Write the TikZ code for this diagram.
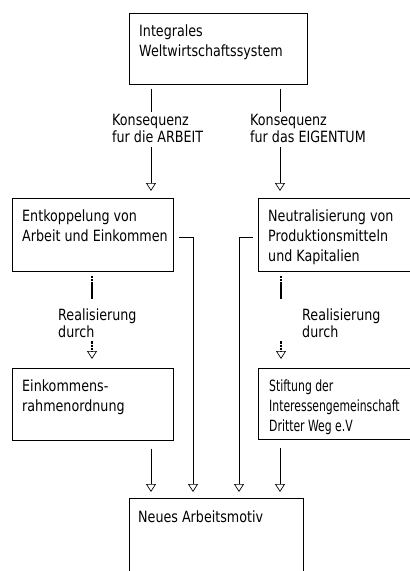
\documentclass[tikz,border=0pt]{standalone}
\usepackage{fontspec}
\setmainfont{DejaVu Sans}[FakeStretch=0.82]
\newfontfamily\tightfont{DejaVu Sans}[FakeStretch=0.7]
\usetikzlibrary{arrows.meta}
\usetikzlibrary{positioning}

\begin{document}
\begin{tikzpicture}[x=1pt,y=-1pt,
	box/.style={draw, line width=0.7pt, anchor=north west, inner sep=0pt},
	boxtext/.style={anchor=north west, inner sep=0pt, align=left, font=\fontsize{15.5}{20}\selectfont},
	lbl/.style={anchor=north west, inner sep=2pt, align=left, font=\fontsize{15.5}{16.5}\selectfont},
	link/.style={line width=0.7pt},
	arr/.style={line width=0.7pt, -{Triangle[open, width=10pt, length=8pt]}, shorten >=6pt},
	real/.style={line width=2.4pt, dash pattern=on 2.6pt off 0.5pt}]

			\useasboundingbox (0,0) rectangle (410,571);
			\clip (0,0) rectangle (410,571);

			% boxes
			\node[box, minimum width=178, minimum height=71] (top) at (129,13) {};
			\node[boxtext] (topT) at ([xshift=10pt,yshift=-12pt]top.north west) {Integrales\\Weltwirtschaftssystem};

			\node[box, minimum width=161, minimum height=73] (midL) at (12,198) {};
			\node[boxtext] (midLT) at ([xshift=10pt,yshift=-12pt]midL.north west) {Entkoppelung von\\Arbeit und Einkommen};

			\node[box, minimum width=162, minimum height=73] (midR) at (258,198) {};
			\node[boxtext] (midRT) at ([xshift=10pt,yshift=-12pt]midR.north west) {Neutralisierung von\\Produktionsmitteln\\und Kapitalien};

			\node[box, minimum width=161, minimum height=72] (botL) at (12,368) {};
			\node[boxtext] (botLT) at ([xshift=10pt,yshift=-12pt]botL.north west) {Einkommens-\\rahmenordnung};

			\node[box, minimum width=162, minimum height=71] (botR) at (258,368) {};
			\node[boxtext, font=\fontsize{15.5}{20}\tightfont] (botRT) at ([xshift=11pt,yshift=-12pt]botR.north west) {Stiftung der\\Interessengemeinschaft\\Dritter Weg e.V};

			\node[box, minimum width=174, minimum height=92] (goal) at (129,498) {};
			\node[boxtext] (goalT) at ([xshift=9pt,yshift=-13pt]goal.north west) {Neues Arbeitsmotiv};

			% labels
			\node[lbl] (konsL) at (110,112) {Konsequenz\\fur die ARBEIT};
			\node[lbl] (konsR) at (248,112) {Konsequenz\\fur das EIGENTUM};
			\node[lbl] (realL) at (56,307) {Realisierung\\durch};
			\node[lbl] (realR) at (300,307) {Realisierung\\durch};

			\coordinate (stemL) at ([xshift=22pt]top.south west);
			\coordinate (stemR) at ([xshift=151pt]top.south west);
			\coordinate (realLx) at ([xshift=80pt]midL.south west);
			\coordinate (realRx) at ([xshift=23pt]midR.south west);

			% Konsequenz
			\draw[link] ([yshift=-4pt]stemL) -- (stemL |- konsL.north);
			\draw[arr, shorten <=3pt, shorten >=7pt] (stemL |- konsL.south) -- (stemL |- midL.north);
			\draw[link] ([yshift=-4pt]stemR) -- (stemR |- konsR.north);
			\draw[arr, shorten <=3pt, shorten >=7pt] (stemR |- konsR.south) -- (stemR |- midR.north);

			% Realisierung
			\draw[real, shorten <=4pt, shorten >=8pt] (realLx) -- (realLx |- realL.north);
			\draw[real, -{Triangle[open, width=10pt, length=8pt, line width=0.7pt]}, shorten <=1.5pt, shorten >=9pt] (realLx |- realL.south) -- (realLx |- botL.north);
			\draw[real, shorten <=4pt, shorten >=8pt] (realRx) -- (realRx |- realR.north);
			\draw[real, -{Triangle[open, width=10pt, length=8pt, line width=0.7pt]}, shorten <=1.5pt, shorten >=9pt] (realRx |- realR.south) -- (realRx |- botR.north);

			% into the goal
			\draw[arr, shorten <=8pt] (stemL |- botL.south) -- (stemL |- goal.north);
			\draw[arr, shorten <=8pt] (stemR |- botR.south) -- (stemR |- goal.north);
			\draw[arr] ([xshift=5pt,yshift=-2.5pt]midL.east) -| ([xshift=64pt]goal.north west);
			\draw[arr] ([xshift=-5pt,yshift=-2.5pt]midR.west) -| ([xshift=110pt]goal.north west);

\end{tikzpicture}
\end{document}
